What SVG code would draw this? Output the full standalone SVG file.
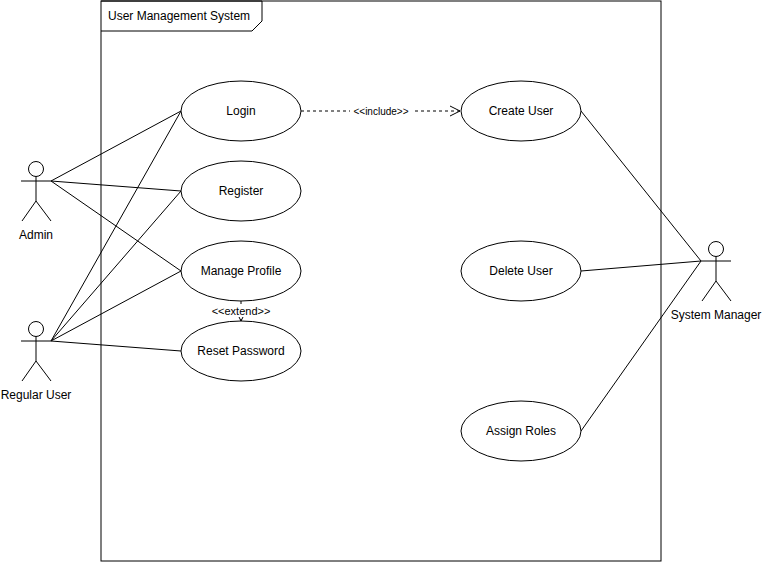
<svg xmlns="http://www.w3.org/2000/svg" width="764" height="564" viewBox="0 0 764 564">
<style>
text{font-family:"Liberation Sans",Arial,sans-serif;font-size:12px;fill:#000}
.uc{fill:#fff;stroke:#000;stroke-width:1}
.ln{stroke:#000;stroke-width:1;fill:none}
.dash{stroke:#000;stroke-width:1;fill:none;stroke-dasharray:3 3}
.lbl{font-size:11px}
</style>
<defs>
<marker id="open" markerWidth="12" markerHeight="12" refX="11" refY="6" orient="auto" markerUnits="userSpaceOnUse"><path d="M1,1 L11,6 L1,11" fill="none" stroke="#000"/></marker>
<marker id="small" markerWidth="6" markerHeight="6" refX="5" refY="3" orient="auto" markerUnits="userSpaceOnUse"><path d="M1,1 L5,3 L1,5" fill="none" stroke="#000"/></marker>
</defs>
<rect width="764" height="564" fill="#fff"/>
<g id="frame">
<rect x="101" y="1" width="560" height="560" class="ln"/>
<path d="M101,1 H262 V21 L252,31 H101" class="ln"/>
<text x="108" y="20">User Management System</text>
</g>
<g id="connectors">
<path class="ln" d="M51,181 L181,111 M51,181 L181,191 M51,181 L181,271"/>
<path class="ln" d="M51,341 L181,111 M51,341 L181,191 M51,341 L181,271 M51,341 L181,351"/>
<path class="ln" d="M701,261 L581,111 M701,261 L581,271 M701,261 L581,431"/>
<path class="dash" d="M301,111 L460,111" marker-end="url(#open)"/>
<rect x="350" y="104" width="62" height="14" fill="#fff"/>
<text x="381" y="115" text-anchor="middle" class="lbl" style="font-size:10px">&lt;&lt;include&gt;&gt;</text>
<path class="dash" d="M241,301 L241,321" marker-end="url(#small)"/>
<rect x="210" y="304" width="62" height="13" fill="#fff"/>
<text x="241" y="315" text-anchor="middle" class="lbl">&lt;&lt;extend&gt;&gt;</text>
</g>
<g id="login"><ellipse class="uc" cx="241" cy="111" rx="60" ry="30"/><text x="241" y="115" text-anchor="middle">Login</text></g>
<g id="register"><ellipse class="uc" cx="241" cy="191" rx="60" ry="30"/><text x="241" y="195" text-anchor="middle">Register</text></g>
<g id="manage"><ellipse class="uc" cx="241" cy="271" rx="60" ry="30"/><text x="241" y="275" text-anchor="middle">Manage Profile</text></g>
<g id="reset"><ellipse class="uc" cx="241" cy="351" rx="60" ry="30"/><text x="241" y="355" text-anchor="middle">Reset Password</text></g>
<g id="create"><ellipse class="uc" cx="521" cy="111" rx="60" ry="30"/><text x="521" y="115" text-anchor="middle">Create User</text></g>
<g id="delete"><ellipse class="uc" cx="521" cy="271" rx="60" ry="30"/><text x="521" y="275" text-anchor="middle">Delete User</text></g>
<g id="assign"><ellipse class="uc" cx="521" cy="431" rx="60" ry="30"/><text x="521" y="435" text-anchor="middle">Assign Roles</text></g>
<g id="admin"><circle cx="36" cy="169" r="7.5" class="uc"/><path class="ln" d="M36,176.5 V201 M21,181 H51 M36,201 L22,221 M36,201 L51,221"/><text x="36" y="239" text-anchor="middle">Admin</text></g>
<g id="regular"><circle cx="36" cy="329" r="7.5" class="uc"/><path class="ln" d="M36,336.5 V361 M21,341 H51 M36,361 L22,381 M36,361 L51,381"/><text x="36" y="399" text-anchor="middle">Regular User</text></g>
<g id="sysmgr"><circle cx="716" cy="249" r="7.5" class="uc"/><path class="ln" d="M716,256.5 V281 M701,261 H731 M716,281 L702,301 M716,281 L731,301"/><text x="716" y="319" text-anchor="middle">System Manager</text></g>
</svg>
